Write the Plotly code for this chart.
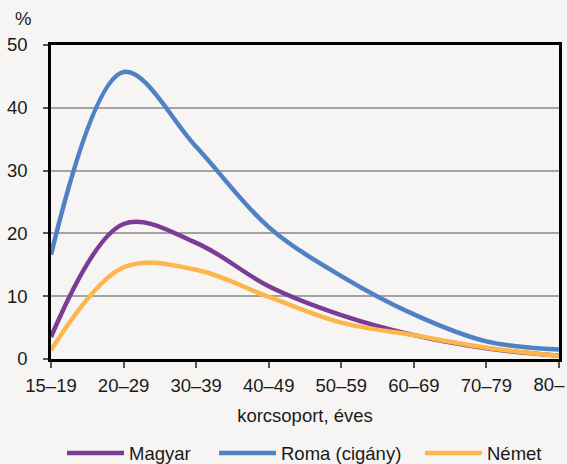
import plotly.graph_objects as go

categories = ["15–19", "20–29", "30–39", "40–49", "50–59", "60–69", "70–79", "80–"]
magyar = [3.5, 21.5, 18.5, 11.6, 7.0, 3.8, 1.7, 0.5]
roma = [16.6, 45.7, 33.8, 21.0, 13.2, 7.1, 2.8, 1.5]
nemet = [1.4, 14.6, 14.2, 9.9, 5.8, 3.8, 1.8, 0.5]
series_names = ["Magyar", "Roma (cigány)", "Német"]
colors = ["#7b3c96", "#4f81c4", "#fdb64b"]
y_ticks = [0, 10, 20, 30, 40, 50]

FONT = "Liberation Sans, Arial, sans-serif"
BG = "#f6f5f3"
FS = 18.5

x = list(range(len(categories)))
legend_ids = ["legend", "legend2", "legend3"]
legend_x = [(62 - 51) / 508, (214 - 51) / 508, (420 - 51) / 508]
xaxis_ids = ["x", "x", "x2"]

fig = go.Figure()
for name, vals, col, lid, xa in zip(series_names, [magyar, roma, nemet], colors, legend_ids, xaxis_ids):
    fig.add_trace(go.Scatter(
        x=x, y=vals, name=name, mode="lines", legend=lid, xaxis=xa, yaxis="y",
        line=dict(color=col, width=4.5, shape="spline", smoothing=1.0),
    ))

legend_common = dict(orientation="h", y=-0.24, yanchor="top", xanchor="left",
                     font=dict(size=FS), itemwidth=57, bgcolor="rgba(0,0,0,0)")
fig.update_layout(
    width=567, height=464,
    margin=dict(l=51, r=8, t=45, b=105, autoexpand=False),
    paper_bgcolor=BG, plot_bgcolor=BG,
    font=dict(family=FONT, size=FS, color="#1a1a1a"),
    showlegend=True,
    legend=dict(x=legend_x[0], **legend_common),
    legend2=dict(x=legend_x[1], **legend_common),
    legend3=dict(x=legend_x[2], **legend_common),
    annotations=[dict(text="%", xref="paper", yref="paper", x=-0.055, y=1.085,
                      xanchor="center", yanchor="middle", showarrow=False,
                      font=dict(size=FS, family=FONT))],
)
n = len(categories)
fig.update_layout(
    xaxis=dict(
        range=[0, n - 1], tickvals=x, ticktext=categories[:-1] + [""],
        showgrid=False, zeroline=False, automargin=False,
        showline=True, linecolor="#000000", linewidth=2.5, mirror=True,
        ticks="outside", ticklen=6, tickcolor="#555555", tickwidth=1.5,
        ticklabelstandoff=2,
        title=dict(text="korcsoport, éves", standoff=15, font=dict(size=FS)),
    ),
    xaxis2=dict(
        overlaying="x", side="bottom", range=[0, n - 1],
        tickvals=[x[-1]], ticktext=[categories[-1]],
        showgrid=False, zeroline=False, automargin=False, showline=False,
        ticks="", ticklabelstandoff=12, ticklabelshift=-10,
        ticklabeloverflow="allow",
    ),
    yaxis=dict(
        range=[0, 50], tickvals=y_ticks, automargin=False,
        showgrid=True, gridcolor="#a3a3a3", gridwidth=1.5, zeroline=False,
        showline=True, linecolor="#000000", linewidth=2.5, mirror=True,
        ticks="outside", ticklen=5, tickcolor="#555555", tickwidth=1.5,
        ticklabelstandoff=12,
    ),
)
fig.write_html("out.html", config={"displayModeBar": False},
               post_script="document.body.style.margin='0';document.body.style.background='" + BG + "';")
